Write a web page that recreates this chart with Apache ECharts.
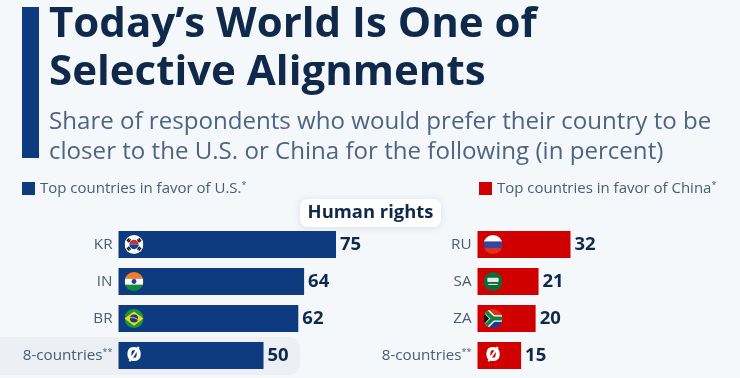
<!DOCTYPE html>
<html><head><meta charset="utf-8">
<style>html,body{margin:0;padding:0;background:#f5f8fb}#c{width:740px;height:378px}</style>
<script src="https://cdn.jsdelivr.net/npm/echarts@6/dist/echarts.min.js"></script>
</head><body><div id="c"></div>
<script>
const titleLines = ["Today’s World Is One of", "Selective Alignments"];
const subtitleLines = ["Share of respondents who would prefer their country to be", "closer to the U.S. or China for the following (in percent)"];
const panelTitle = "Human rights";
const usName = "Top countries in favor of U.S.";
const cnName = "Top countries in favor of China";
const usCats = ["KR", "IN", "BR", "8-countries"];
const usVals = [75, 64, 62, 50];
const cnCats = ["RU", "SA", "ZA", "8-countries"];
const cnVals = [32, 21, 20, 15];

const NAVY = "#0e3b80", RED = "#d10000", BG = "#f5f8fb", INK = "#10294a", SUB = "#4f6482", AXIS = "#4a5b72";
const FONT = "'Open Sans', sans-serif";

function svg(body) {
  return "data:image/svg+xml;charset=utf-8," + encodeURIComponent(
    '<svg xmlns="http://www.w3.org/2000/svg" width="80" height="80" viewBox="0 0 20 20"><defs><clipPath id="c"><circle cx="10" cy="10" r="10"/></clipPath></defs><g clip-path="url(#c)">' + body + '</g></svg>');
}
const flags = {
  KR: svg('<rect width="20" height="20" fill="#fff"/><path d="M5 10a5 5 0 0 1 10 0z" fill="#cd2e3a"/><path d="M5 10a5 5 0 0 0 10 0z" fill="#0047a0"/><g stroke="#111" stroke-width="1.5"><path d="M2.6 6.6l2.4-3M4 7.6l2.4-3M15 3.6l2.4 3M13.6 4.6l2.4 3M2.6 13.4l2.4 3M4 12.4l2.4 3M15 16.4l2.4-3M13.6 15.4l2.4-3"/></g>'),
  IN: svg('<rect width="20" height="7" fill="#f47b2a"/><rect y="7" width="20" height="6.5" fill="#fff"/><rect y="13.5" width="20" height="6.5" fill="#148a3c"/><circle cx="10" cy="10" r="2.6" fill="#2b3a8c"/>'),
  BR: svg('<rect width="20" height="20" fill="#169b3c"/><path d="M10 2.5L20 10 10 17.5 0 10z" fill="#f7d417"/><circle cx="10" cy="10" r="4.3" fill="#1b3a7a"/><path d="M5.8 9.2q4.500-1 8.400 1.800" stroke="#fff" stroke-width=".7" fill="none"/>'),
  RU: svg('<rect width="20" height="7" fill="#fff"/><rect y="7" width="20" height="6.500" fill="#2a4aa8"/><rect y="13.500" width="20" height="6.500" fill="#e0301e"/>'),
  SA: svg('<rect width="20" height="20" fill="#11693a"/><rect x="4" y="6" width="12" height="4.500" rx="1" fill="#dfeee4"/><rect x="5" y="12.500" width="10" height="1" fill="#fff"/>'),
  ZA: svg('<rect width="20" height="10" fill="#e0301e"/><rect y="10" width="20" height="10" fill="#1c3a9c"/><path d="M0 0L10 10 0 20" fill="none" stroke="#fff" stroke-width="7"/><path d="M10 10H20" stroke="#fff" stroke-width="7"/><path d="M0 0L10 10 0 20" fill="none" stroke="#12803c" stroke-width="4"/><path d="M10 10H20" stroke="#12803c" stroke-width="4"/><path d="M0 3.500L6 10 0 16.500z" fill="#111"/>')
};

function marker(cats, gridIdx) {
  return {
    type: "custom", xAxisIndex: gridIdx, yAxisIndex: gridIdx, silent: true, clip: false, z: 5,
    data: cats.map(c => [0, c]),
    renderItem(params, api) {
      const p = api.coord([0, api.value(1)]);
      const cx = p[0] + 15.5, cy = p[1];
      const key = cats[params.dataIndex];
      if (flags[key]) return { type: "image", style: { image: flags[key], x: cx - 9.5, y: cy - 9.5, width: 19, height: 19 } };
      return { type: "text", style: { text: "Ø", x: cx, y: cy, align: "center", verticalAlign: "middle", fill: "#fff", font: "800 19px " + FONT } };
    }
  };
}
function bars(name, vals, color, idx) {
  return {
    name, type: "bar", xAxisIndex: idx, yAxisIndex: idx, data: vals, barWidth: 27,
    itemStyle: { color },
    label: { show: true, position: "right", distance: 4, color: INK, fontFamily: FONT, fontWeight: 700, fontSize: 18.5 },
    z: 3
  };
}
const catLabel = {
  fontFamily: FONT, fontSize: 15.2, color: AXIS, margin: 6,
  formatter: v => v === "8-countries" ? "{b|8-countries}{s|**}" : v,
  rich: { b: { fontFamily: FONT, fontSize: 15.2, color: AXIS }, s: { fontFamily: FONT, fontSize: 9, color: AXIS, padding: [0, 0, 6, 0] } }
};
const legendRich = { a: { fontFamily: FONT, fontSize: 15, color: AXIS }, s: { fontFamily: FONT, fontSize: 9, color: AXIS, padding: [0, 0, 6, 0] } };
const yAxis = (data) => ({ type: "category", inverse: true, data, axisLine: { show: false }, axisTick: { show: false }, axisLabel: catLabel });
const xAxis = (gridIndex, max) => ({ type: "value", gridIndex, min: 0, max, show: false, splitLine: { show: false } });
const legend = (name, left) => ({
  data: [name], left, top: 181, padding: 0, itemWidth: 13, itemHeight: 13, icon: "rect", itemGap: 5, selectedMode: false,
  formatter: n => "{a|" + n + "}{s|*}", textStyle: { rich: legendRich, padding: 0 }
});

const chart = echarts.init(document.getElementById("c"), null, { renderer: "canvas" });
chart.setOption({
  backgroundColor: BG, animation: false, tooltip: { show: false },
  grid: [
    { left: 118.5, top: 226, width: 290, height: 148 },
    { left: 477.5, top: 226, width: 261.6, height: 148 }
  ],
  xAxis: [xAxis(0, 100), xAxis(1, 90)],
  yAxis: [Object.assign(yAxis(usCats), { gridIndex: 0 }), Object.assign(yAxis(cnCats), { gridIndex: 1 })],
  legend: [legend(usName, 22), legend(cnName, 479)],
  graphic: [
    { type: "rect", z: 0, shape: { x: -20, y: 337, width: 320, height: 38, r: 10 }, style: { fill: "#eceff3" } },
    { type: "rect", z: 1, shape: { x: 22, y: 7, width: 17, height: 151 }, style: { fill: NAVY } },
    { type: "text", z: 1, style: { text: titleLines.join("\n"), x: 49, y: 1, fill: INK, font: "700 42px " + FONT, lineHeight: 48 } },
    { type: "text", z: 1, style: { text: subtitleLines.join("\n"), x: 49, y: 107, fill: SUB, font: "400 24.1px " + FONT, lineHeight: 30 } },
    { type: "rect", z: 2, shape: { x: 300, y: 199, width: 141, height: 28, r: 8 }, style: { fill: "#fff", shadowBlur: 8, shadowColor: "rgba(20,40,80,0.12)", shadowOffsetY: 1 } },
    { type: "text", z: 3, style: { text: panelTitle, x: 370.5, y: 212.5, align: "center", verticalAlign: "middle", fill: INK, font: "700 18.4px " + FONT } }
  ],
  series: [
    bars(usName, usVals, NAVY, 0),
    bars(cnName, cnVals, RED, 1),
    marker(usCats, 0),
    marker(cnCats, 1)
  ]
});
</script></body></html>
